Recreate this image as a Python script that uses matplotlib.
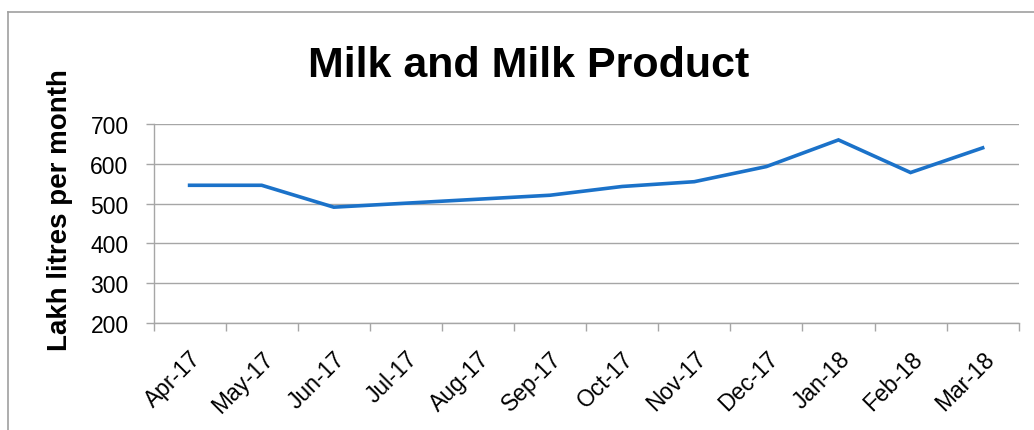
import matplotlib.pyplot as plt
from matplotlib.lines import Line2D

months = ['Apr-17', 'May-17', 'Jun-17', 'Jul-17', 'Aug-17', 'Sep-17',
          'Oct-17', 'Nov-17', 'Dec-17', 'Jan-18', 'Feb-18', 'Mar-18']
milk = [546, 546, 491, 501, 511, 521, 543, 555, 593, 660, 578, 640]
yticks = [200, 300, 400, 500, 600, 700]

plt.rcParams['font.family'] = ['Liberation Sans', 'DejaVu Sans']

grid_col = '#a6a6a6'
fig = plt.figure(figsize=(10.34, 4.31), dpi=100)
ax = fig.add_axes([0.1485, 0.2483, 0.8367, 0.4617])

x = list(range(len(months)))
ax.plot(x, milk, color='#1b72c9', linewidth=2.6, solid_joinstyle='miter')

ax.set_xlim(-0.5, len(months) - 0.5)
ax.set_ylim(200, 700)
ax.set_yticks(yticks)
ax.set_yticklabels([str(v) for v in yticks], fontsize=16.5)
ax.set_xticks(x)
ax.set_xticklabels(months, fontsize=16.5, rotation=45, ha='right',
                   rotation_mode='anchor')
ax.set_xticks([i - 0.5 for i in range(len(months) + 1)], minor=True)
ax.tick_params(axis='x', which='major', length=0, pad=17)
ax.tick_params(axis='x', which='minor', length=6, color=grid_col, width=1)
ax.tick_params(axis='y', length=6, color=grid_col, width=1, pad=12)

ax.grid(axis='y', color=grid_col, linewidth=1)
ax.set_axisbelow(True)
for s in ['top', 'right']:
    ax.spines[s].set_visible(False)
for s in ['left', 'bottom']:
    ax.spines[s].set_color(grid_col)
    ax.spines[s].set_linewidth(1)

fig.text(0.511, 0.848, 'Milk and Milk Product', fontsize=31,
         fontweight='bold', ha='center', va='center')
fig.text(0.058, 0.513, 'Lakh litres per month', fontsize=20,
         fontweight='bold', rotation=90, ha='center', va='center')

# chart border
top = (431 - 13) / 431
fig.add_artist(Line2D([8 / 1034, 8 / 1034], [0, top], color='#a0a0a0', lw=1.2))
fig.add_artist(Line2D([8 / 1034, 1], [top, top], color='#a0a0a0', lw=1.2))

fig.savefig('out.png', dpi=100)
